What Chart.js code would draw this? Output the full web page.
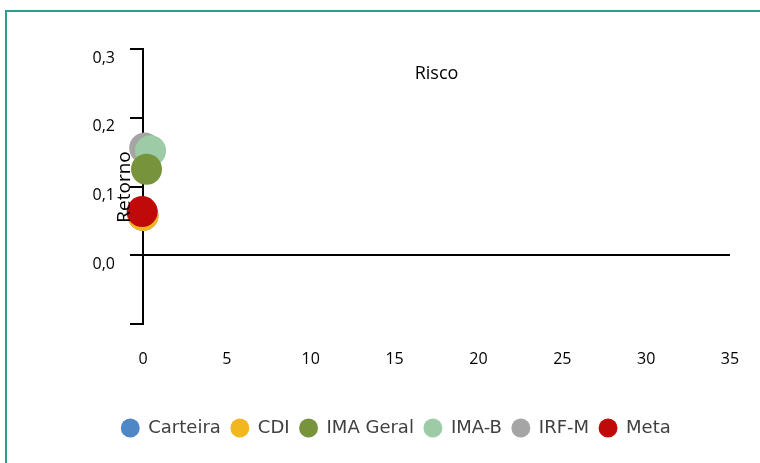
<!DOCTYPE html>
<html>
<head>
<meta charset="utf-8">
<script src="https://cdn.jsdelivr.net/npm/chart.js@4"></script>
<style>
  html, body { margin: 0; padding: 0; background: #fff; overflow: hidden; }
  #frame {
    position: absolute; left: 5px; top: 10px; width: 800px; height: 500px;
    border: 2px solid #2f9b8c; box-sizing: border-box;
  }
  #wrap { position: absolute; left: 0; top: 0; width: 760px; height: 463px; }
</style>
</head>
<body>
<div id="frame"></div>
<div id="wrap"><canvas id="myChart"></canvas></div>
<script>
// series (legend order)
const seriesNames = ['Carteira', 'CDI', 'IMA Geral', 'IMA-B', 'IRF-M', 'Meta'];
// risco (x) and retorno (y)
const riskValues = [0.0, 0.0, 0.21, 0.45, 0.1, -0.05];
const returnValues = [0.058, 0.058, 0.125, 0.152, 0.156, 0.0635];
const seriesColors = ['#4f86c6', '#f2b71e', '#77933c', '#9dcba6', '#a5a5a5', '#c00a0a'];
// lower = drawn on top
const drawOrder = [5, 1, 2, 3, 4, 0];

const xTickStep = 5;
const xRange = [0, 35];
const yTickStep = 0.1;
const yRange = [-0.1, 0.3];

const tickFont = { family: '"Open Sans", "Noto Sans", sans-serif', size: 16 };

const axisTitles = {
  id: 'axisTitles',
  afterDraw(chart) {
    const { ctx, chartArea } = chart;
    ctx.save();
    ctx.fillStyle = '#000';
    ctx.textAlign = 'center';
    ctx.textBaseline = 'middle';
    ctx.font = '18px "Open Sans", sans-serif';
    ctx.fillText('Risco', (chartArea.left + chartArea.right) / 2, chartArea.top + 25);
    ctx.font = '19px "Open Sans", sans-serif';
    ctx.translate(chartArea.left - 18, chartArea.top + 138);
    ctx.rotate(-Math.PI / 2);
    ctx.fillText('Retorno', 0, 0);
    ctx.restore();
  }
};

const datasets = seriesNames.map((name, i) => ({
  label: name,
  data: [{ x: riskValues[i], y: returnValues[i] }],
  backgroundColor: seriesColors[i],
  borderColor: seriesColors[i],
  pointRadius: 15.5,
  pointHoverRadius: 15.5,
  pointBorderWidth: 0,
  order: drawOrder[i],
  clip: false,
}));

const ctx = document.getElementById('myChart').getContext('2d');
const myChart = new Chart(ctx, {
  type: 'scatter',
  data: { datasets },
  options: {
    responsive: true,
    maintainAspectRatio: false,
    animation: false,
    layout: {
      padding: { left: 62, top: 49, right: 30, bottom: 16 },
    },
    plugins: {
      tooltip: { enabled: false },
      legend: {
        position: 'bottom',
        labels: {
          usePointStyle: true,
          pointStyle: 'circle',
          boxHeight: 13.4,
          padding: 10,
          color: '#404040',
          font: { family: '"DejaVu Sans", sans-serif', size: 18 },
          sort: (a, b) => a.datasetIndex - b.datasetIndex,
        },
      },
    },
    scales: {
      x: {
        type: 'linear',
        position: 'bottom',
        min: xRange[0],
        max: xRange[1],
        afterFit: (s) => { s.height = 85; },
        border: { display: false },
        // invisible tick marks just push the labels down
        grid: { display: false, drawTicks: true, tickLength: 24 },
        ticks: { stepSize: xTickStep, padding: 2, color: '#000', font: tickFont },
      },
      y: {
        type: 'linear',
        position: 'left',
        min: yRange[0],
        max: yRange[1],
        afterFit: (s) => { s.width = 81; },
        border: { display: true, color: '#000', width: 2 },
        grid: {
          color: (c) => (c.tick && Math.abs(c.tick.value) < 1e-9 ? '#000' : 'rgba(0,0,0,0)'),
          lineWidth: 2,
          tickColor: '#000',
          tickWidth: 2,
          tickLength: 13,
        },
        ticks: {
          stepSize: yTickStep,
          padding: 15,
          labelOffset: 9,
          color: '#000',
          font: tickFont,
          callback: (v) => (v < -1e-9 ? '' : v.toFixed(1).replace('.', ',')),
        },
      },
    },
  },
  plugins: [axisTitles],
});
</script>
</body>
</html>
